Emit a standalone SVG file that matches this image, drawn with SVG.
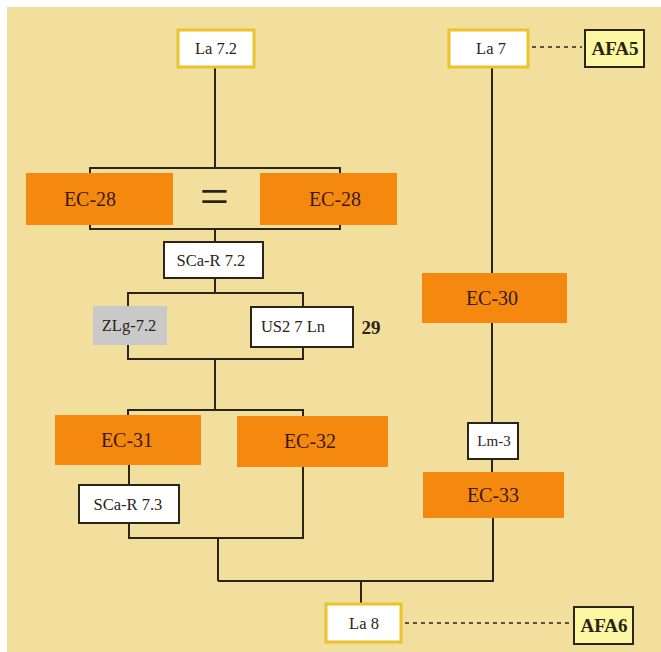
<svg xmlns="http://www.w3.org/2000/svg" width="661" height="652" viewBox="0 0 661 652">
<style>
.ln{stroke:#2b2418;stroke-width:2;fill:none}
.dash{stroke:#2b2418;stroke-width:1.6;fill:none;stroke-dasharray:4 4}
.ec{fill:#f5890f}
.la{fill:#ffffff;stroke:#eac42c;stroke-width:3}
.wb{fill:#ffffff;stroke:#2b2418;stroke-width:2}
.afa{fill:#fbf7a2;stroke:#2b2418;stroke-width:2}
.t{font-family:"Liberation Serif","DejaVu Serif",serif;fill:#2a2418;text-anchor:middle}
.ts{font-size:16.5px}
.te{font-size:20px;fill:#3a1a0a}
.tb{font-size:19px;font-weight:bold}
</style>
<rect x="0" y="0" width="661" height="652" fill="#ffffff"/>
<rect x="7" y="7" width="654" height="645" fill="#f3df9d"/>
<g id="connectors">
<line class="ln" x1="215" y1="67" x2="215" y2="168"/>
<polyline class="ln" points="90,174 90,168 340,168 340,174"/>
<polyline class="ln" points="90,224 90,229 340,229 340,224"/>
<line class="ln" x1="215" y1="229" x2="215" y2="242"/>
<line class="ln" x1="215" y1="278" x2="215" y2="293"/>
<polyline class="ln" points="128,307 128,293 303,293 303,307"/>
<polyline class="ln" points="128,345 128,359 303,359 303,347"/>
<line class="ln" x1="215" y1="359" x2="215" y2="410"/>
<polyline class="ln" points="128,416 128,410 303,410 303,416"/>
<line class="ln" x1="129" y1="465" x2="129" y2="485"/>
<polyline class="ln" points="129,524 129,538 303,538 303,467"/>
<line class="ln" x1="218" y1="538" x2="218" y2="581"/>
<polyline class="ln" points="218,581 493,581 493,518"/>
<line class="ln" x1="361" y1="581" x2="361" y2="603"/>
<line class="ln" x1="492" y1="67" x2="492" y2="273"/>
<line class="ln" x1="492" y1="323" x2="492" y2="423"/>
<line class="ln" x1="492" y1="459" x2="492" y2="472"/>
<line class="dash" x1="532" y1="47" x2="582" y2="47"/>
<line class="dash" x1="405" y1="623" x2="573" y2="623"/>
</g>
<g id="la72"><rect class="la" x="178" y="30" width="76" height="37"/><text class="t ts" x="216" y="54">La 7.2</text></g>
<g id="la7"><rect class="la" x="449" y="30" width="79" height="37"/><text class="t ts" x="491" y="54">La 7</text></g>
<g id="afa5"><rect class="afa" x="585" y="30" width="59" height="37"/><text class="t tb" x="615" y="55">AFA5</text></g>
<g id="ec28a"><rect class="ec" x="26" y="173" width="147" height="52"/><text class="t te" x="90" y="206">EC-28</text></g>
<g id="eq"><text class="t" x="214.5" y="214" font-size="52">=</text></g>
<g id="ec28b"><rect class="ec" x="260" y="173" width="137" height="52"/><text class="t te" x="335" y="206">EC-28</text></g>
<g id="scar72"><rect class="wb" x="164" y="242" width="99" height="36"/><text class="t ts" x="211" y="266">SCa-R 7.2</text></g>
<g id="zlg72"><rect x="93" y="306" width="74" height="39" fill="#c9c9c9"/><text class="t ts" x="129" y="331" fill="#555555">ZLg-7.2</text></g>
<g id="us27ln"><rect class="wb" x="251" y="307" width="102" height="40"/><text class="t ts" x="293" y="332">US2 7 Ln</text></g>
<g id="n29"><text class="t tb" x="371" y="334">29</text></g>
<g id="ec31"><rect class="ec" x="55" y="415" width="146" height="50"/><text class="t te" x="127" y="447">EC-31</text></g>
<g id="ec32"><rect class="ec" x="237" y="416" width="151" height="51"/><text class="t te" x="310" y="448">EC-32</text></g>
<g id="scar73"><rect class="wb" x="79" y="485" width="100" height="38"/><text class="t ts" x="128" y="510">SCa-R 7.3</text></g>
<g id="ec30"><rect class="ec" x="422" y="273" width="145" height="50"/><text class="t te" x="492" y="305">EC-30</text></g>
<g id="lm3"><rect class="wb" x="468" y="423" width="50" height="36"/><text class="t" x="494" y="446" font-size="15">Lm-3</text></g>
<g id="ec33"><rect class="ec" x="423" y="472" width="141" height="46"/><text class="t te" x="493" y="502">EC-33</text></g>
<g id="la8"><rect class="la" x="326" y="604" width="75" height="38"/><text class="t ts" x="364" y="629">La 8</text></g>
<g id="afa6"><rect class="afa" x="574" y="607" width="59" height="37"/><text class="t tb" x="604" y="632">AFA6</text></g>
</svg>
